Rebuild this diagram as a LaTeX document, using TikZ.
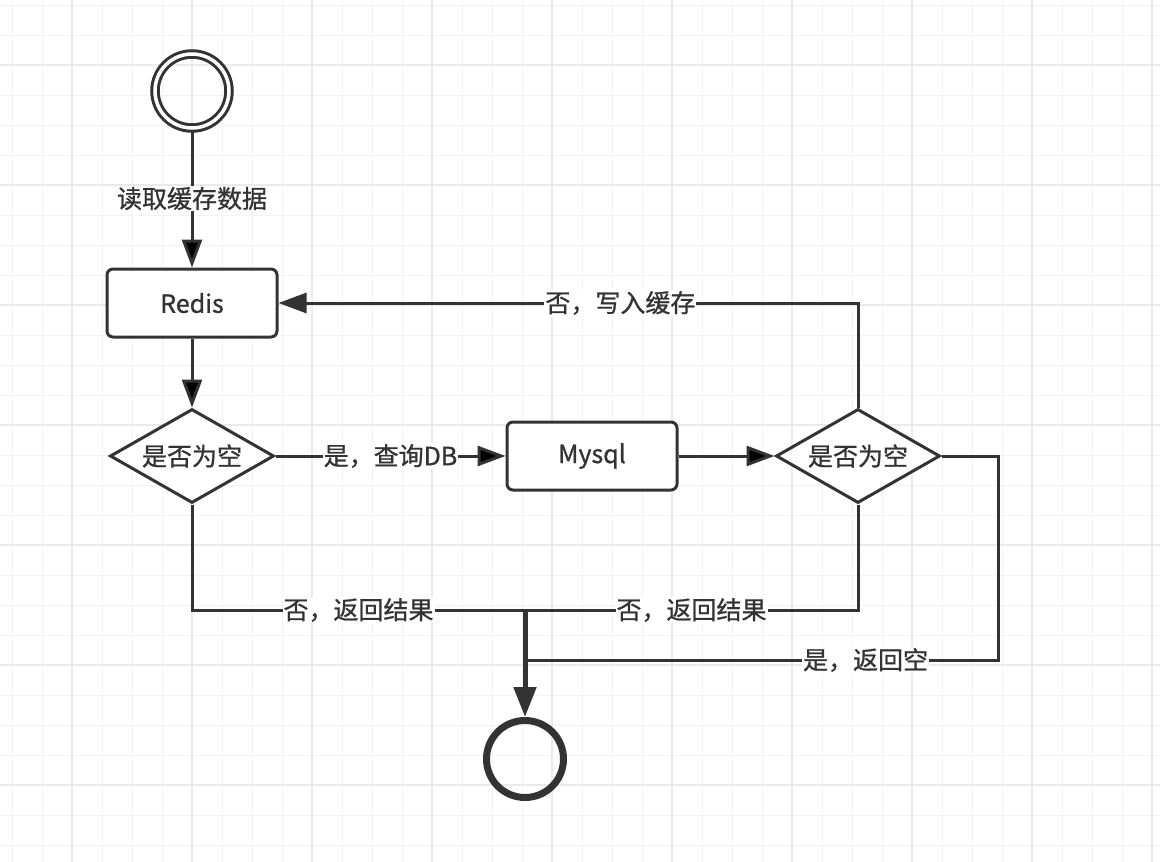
\documentclass[tikz,border=0pt]{standalone}
\usepackage{fontspec}
\setmainfont{Noto Sans CJK SC}[FakeBold=0.9]
\usetikzlibrary{arrows.meta}
\usetikzlibrary{shapes.geometric}
\usetikzlibrary{positioning}
\definecolor{ink}{HTML}{333333}
\definecolor{gridminor}{HTML}{F3F3F3}
\definecolor{gridmajor}{HTML}{EAEAEA}

\begin{document}
\begin{tikzpicture}[x=1pt, y=-1pt, on grid, >={Triangle[length=28pt,width=20pt]},
    every node/.style={font=\fontsize{25}{30}\selectfont, text=ink},
    box/.style={draw=ink, line width=3pt, rounded corners=6pt, fill=white, minimum width=170pt, minimum height=68pt},
    test/.style={diamond, aspect=1.75, draw=ink, line width=3pt, fill=white, inner sep=1pt, minimum width=164pt, minimum height=94pt},
    flow/.style={draw=ink, line width=3pt},
    lbl/.style={fill=white, inner sep=1pt}]
      % grid
      \fill[white] (0,0) rectangle (1160,862);
      \useasboundingbox (0,0) rectangle (1160,862);
      \foreach \x in {12,42,...,1160} \draw[gridminor, line width=1pt] (\x,0) -- (\x,862);
      \foreach \y in {5,35,...,862} \draw[gridminor, line width=1pt] (0,\y) -- (1160,\y);
      \foreach \x in {72,192,...,1160} \draw[gridmajor, line width=1.5pt] (\x,0) -- (\x,862);
      \foreach \y in {65,185,...,862} \draw[gridmajor, line width=1.5pt] (0,\y) -- (1160,\y);

      \node[circle, draw=ink, line width=3pt, double, double distance=3.5pt, minimum size=74pt] (start) at (192,91) {};
      \node[box]  (redis) [below=212pt of start] {Redis};
      \node[test] (empty1) [below=153pt of redis] {是否为空};
      \node[box]  (mysql) [right=400pt of empty1] {Mysql};
      \node[test] (empty2) [right=266pt of mysql] {是否为空};
      \node[circle, draw=ink, line width=7pt, minimum size=77pt] (stop) at (525,759) {};
      \coordinate (join)  at (525,610);
      \coordinate (turn)  at (998,660);
      \coordinate (join2) at (525,660);

      \path[flow, ->]
        (start)  edge node[lbl] {读取缓存数据} (redis)
        (redis)  edge (empty1)
        (empty1) edge node[lbl] {是，查询DB} (mysql)
        (mysql)  edge (empty2);
      \draw[flow, ->] (empty2) |- node[lbl, pos=0.705] {否，写入缓存} (redis);
      \draw[flow] (empty1) |- node[lbl, pos=0.75] {否，返回结果} (join);
      \draw[flow] (empty2) |- node[lbl, pos=0.75] {否，返回结果} (join);
      \draw[flow] (empty2.east) -| (turn) -- node[lbl, pos=0.28] {是，返回空} (join2);
      \draw[flow, ->, line width=5pt, >={Triangle[length=30pt,width=22pt]}] (join) -- (stop);
\end{tikzpicture}
\end{document}
